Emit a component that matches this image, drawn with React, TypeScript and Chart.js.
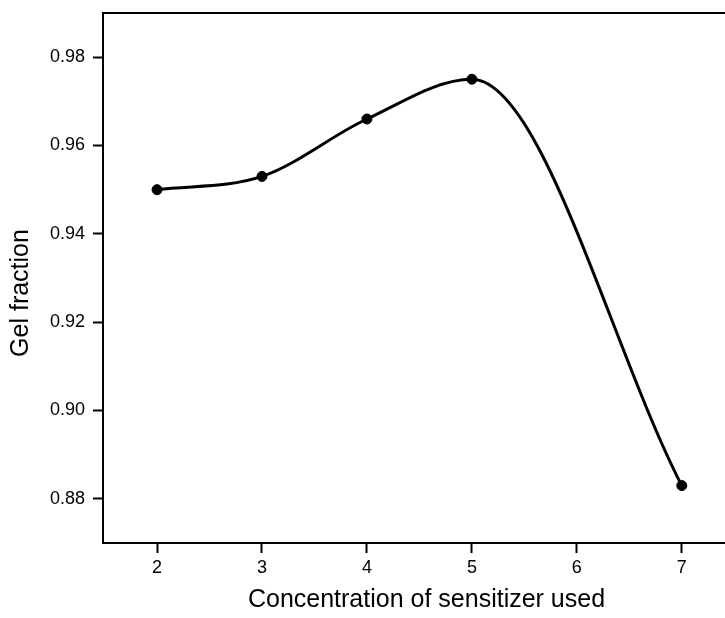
import React, { useEffect, useRef } from "react";
import { Chart, registerables } from "chart.js";

Chart.register(...registerables);

// Sensitizer concentration vs. measured gel fraction
const concentrations = [2, 3, 4, 5, 7];
const gelFraction = [0.95, 0.953, 0.966, 0.975, 0.883];

const xTickValues = [2, 3, 4, 5, 6, 7];
const yTickValues = [0.88, 0.9, 0.92, 0.94, 0.96, 0.98];

const xTitle = "Concentration of sensitizer used";
const yTitle = "Gel fraction";

const FONT = "'Liberation Sans', Arial, Helvetica, sans-serif";

// Frame line along the top of the plot area, plus the rotated y-axis title
const frameAndTitle = {
  id: "frameAndTitle",
  afterDraw(chart: any) {
    const { ctx, chartArea } = chart;
    ctx.save();
    ctx.strokeStyle = "#000";
    ctx.lineWidth = 2;
    ctx.beginPath();
    ctx.moveTo(chartArea.left - 1, chartArea.top);
    ctx.lineTo(chartArea.right, chartArea.top);
    ctx.stroke();

    ctx.translate(21, chartArea.top + (chartArea.bottom - chartArea.top) / 2 + 15);
    ctx.rotate(-Math.PI / 2);
    ctx.fillStyle = "#000";
    ctx.font = `25px ${FONT}`;
    ctx.textAlign = "center";
    ctx.textBaseline = "middle";
    ctx.fillText(yTitle, 0, 0);
    ctx.restore();
  },
};

export default function App() {
  const canvasRef = useRef<HTMLCanvasElement | null>(null);

  useEffect(() => {
    const canvas = canvasRef.current;
    if (!canvas) return;
    const chart = new Chart(canvas, {
      type: "line",
      data: {
        datasets: [
          {
            data: concentrations.map((x, i) => ({ x, y: gelFraction[i] })),
            borderColor: "#000",
            backgroundColor: "#000",
            borderWidth: 3,
            cubicInterpolationMode: "monotone",
            pointRadius: 5,
            pointBorderWidth: 1,
            pointStyle: "circle",
            fill: false,
          },
        ],
      },
      options: {
        responsive: false,
        animation: false,
        layout: { padding: { top: 13, right: 0, bottom: 0, left: 0 } },
        plugins: {
          legend: { display: false },
          tooltip: { enabled: false },
        },
        scales: {
          x: {
            type: "linear",
            min: 1.485,
            max: 7.65,
            afterFit(scale: any) {
              scale.height = 75;
              scale.paddingLeft = 0;
              scale.paddingRight = 0;
            },
            afterBuildTicks(scale: any) {
              scale.ticks = xTickValues.map((v) => ({ value: v }));
            },
            ticks: {
              color: "#000",
              font: { family: FONT, size: 18 },
              padding: 4,
              maxRotation: 0,
              callback: (v: any) => String(v),
            },
            grid: {
              display: true,
              drawOnChartArea: false,
              drawTicks: true,
              tickLength: 10,
              tickWidth: 2,
              color: "#000",
            },
            border: { display: true, color: "#000", width: 2 },
            title: {
              display: true,
              text: xTitle,
              color: "#000",
              font: { family: FONT, size: 25 },
              padding: { top: 0, bottom: 3 },
            },
          },
          y: {
            type: "linear",
            min: 0.87,
            max: 0.99,
            afterFit(scale: any) {
              scale.width = 103;
              scale.paddingTop = 0;
              scale.paddingBottom = 0;
            },
            afterBuildTicks(scale: any) {
              scale.ticks = yTickValues.map((v) => ({ value: v }));
            },
            ticks: {
              color: "#000",
              font: { family: FONT, size: 18 },
              padding: 8,
              callback: (v: any) => Number(v).toFixed(2),
            },
            grid: {
              display: true,
              drawOnChartArea: false,
              drawTicks: true,
              tickLength: 10,
              tickWidth: 2,
              color: "#000",
            },
            border: { display: true, color: "#000", width: 2 },
            title: { display: false },
          },
        },
      },
      plugins: [frameAndTitle],
    });
    return () => chart.destroy();
  }, []);

  return (
    <div
      style={{
        position: "absolute",
        left: 0,
        top: 0,
        width: 725,
        height: 618,
        overflow: "hidden",
        background: "#fff",
      }}
    >
      <canvas ref={canvasRef} width={756} height={618} style={{ display: "block" }} />
    </div>
  );
}
